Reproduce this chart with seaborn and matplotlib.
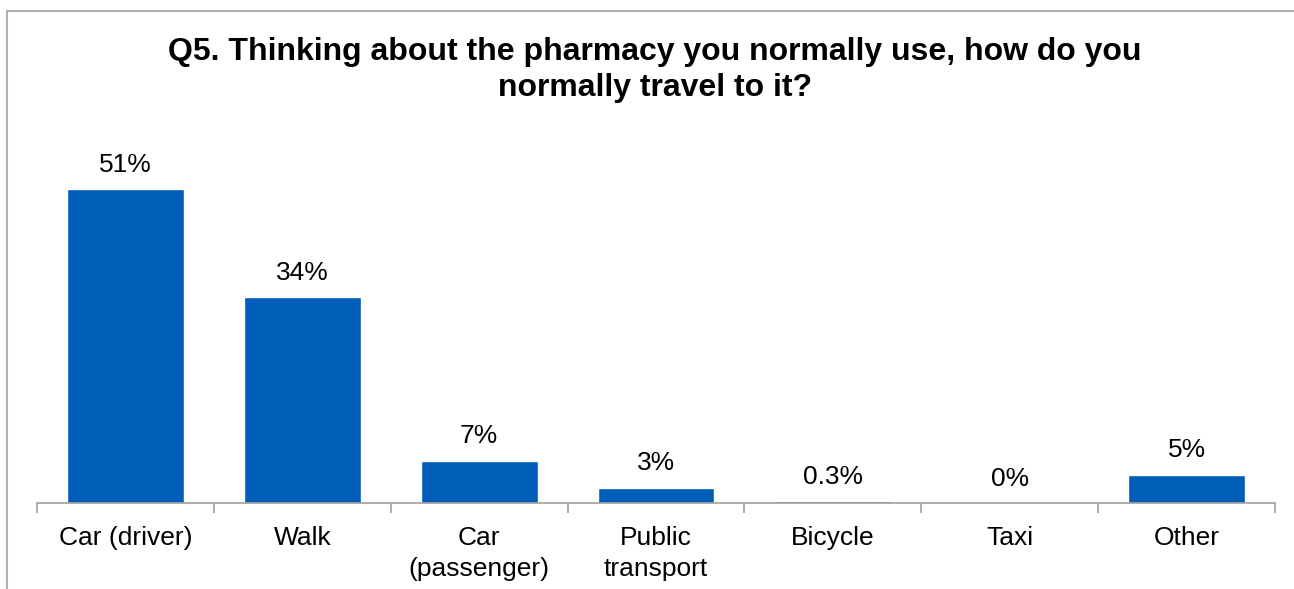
import matplotlib
matplotlib.use("Agg")
import matplotlib.pyplot as plt
import seaborn as sns
import pandas as pd
from matplotlib.lines import Line2D

categories = ["Car (driver)", "Walk", "Car\n(passenger)", "Public\ntransport", "Bicycle", "Taxi", "Other"]
values = [51.4, 33.7, 6.9, 2.5, 0.3, 0, 4.6]
value_labels = ["51%", "34%", "7%", "3%", "0.3%", "0%", "5%"]
title = "Q5. Thinking about the pharmacy you normally use, how do you\nnormally travel to it?"

sns.set_theme(style="white")
plt.rcParams['font.family'] = ['Liberation Sans', 'DejaVu Sans']

fig = plt.figure(figsize=(12.94, 5.89), dpi=100)
W, H = 1294, 589
ax = fig.add_axes([37 / W, 1 - 503 / H, (1275 - 37) / W, (503 - 136.5) / H])

df = pd.DataFrame({"cat": categories, "val": values})
sns.barplot(data=df, x="cat", y="val", color="#005EB8", saturation=1, width=0.66, ax=ax)

ax.set_xlim(-0.5, len(categories) - 0.5)
ax.set_ylim(0, 60)
ax.set_xlabel("")
ax.set_ylabel("")
ax.set_yticks([])
for s in ["top", "right", "left"]:
    ax.spines[s].set_visible(False)
ax.spines["bottom"].set_color("#A0A0A0")
ax.spines["bottom"].set_linewidth(1.2)

ax.set_xticks(range(len(categories)))
ax.set_xticklabels(categories, fontsize=19, color="black", linespacing=1.38)
ax.tick_params(axis="x", which="major", length=0, pad=16.5)
ax.set_xticks([i - 0.5 for i in range(len(categories) + 1)], minor=True)
ax.tick_params(axis="x", which="minor", length=7, width=1.2, color="#A0A0A0", direction="out", bottom=True)

for i, (v, lab) in enumerate(zip(values, value_labels)):
    ax.annotate(lab, (i, v), xytext=(0, 9), textcoords="offset points",
                ha="center", va="bottom", fontsize=19, color="black")

fig.text(655 / W, 1 - 70 / H, title, ha="center", va="center", fontsize=23,
         fontweight="bold", color="black", linespacing=1.28)

# chart frame (partially visible)
fig.add_artist(Line2D([7 / W, 1.0], [1 - 11 / H, 1 - 11 / H], color="#B0B0B0", lw=1.5, transform=fig.transFigure))
fig.add_artist(Line2D([7 / W, 7 / W], [0, 1 - 11 / H], color="#B0B0B0", lw=1.5, transform=fig.transFigure))

fig.savefig("out.png", dpi=100)
